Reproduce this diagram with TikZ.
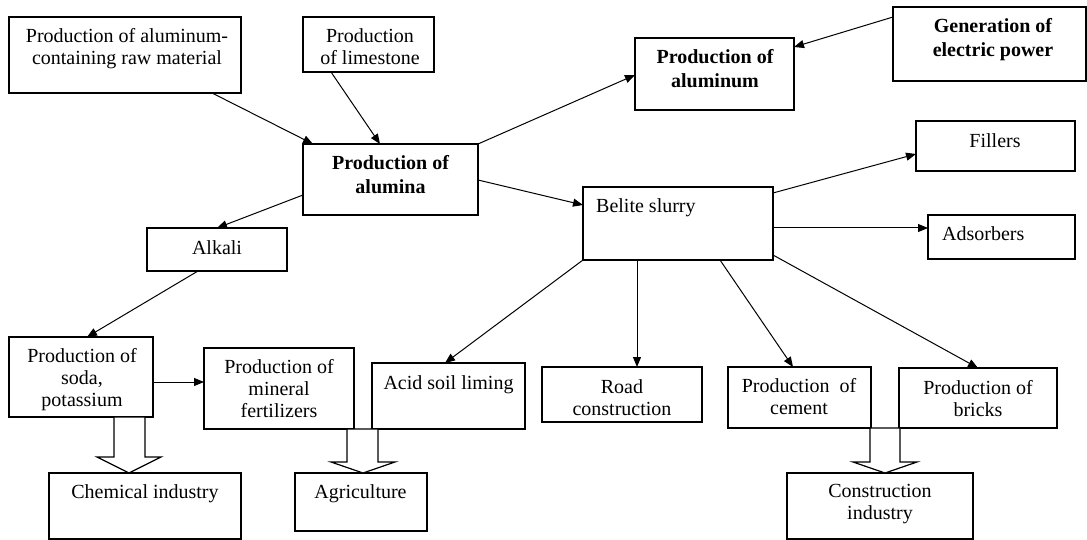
\documentclass[tikz,border=0pt]{standalone}
\usepackage{fontspec}
\setmainfont{Liberation Serif}
\usetikzlibrary{arrows.meta}
\tikzset{
  box/.style={draw, line width=1.2pt, inner sep=0pt, outer sep=0pt},
  txt/.style={inner sep=0pt, align=center, font=\fontsize{20}{22}\selectfont},
  btxt/.style={inner sep=0pt, align=center, font=\fontsize{20}{23.5}\selectfont\bfseries},
  arr/.style={line width=1pt, -{Triangle[length=10pt,width=8pt]}},
  block/.style={draw, line width=1.2pt, fill=white, line join=miter},
}
\newcommand\bx[5]{\node[box, minimum width={#4-#2}, minimum height={#5-#3}, anchor=north west] (#1) at (#2,#3) {};}
\begin{document}
\begin{tikzpicture}[x=1pt, y=-1pt]
\fill[white] (0,0) rectangle (1087,540);
\useasboundingbox (0,0) rectangle (1087,540);
% boxes
\bx{raw}{9}{17}{241}{93}
\bx{lime}{303}{17}{434}{72}
\bx{alum}{303}{144}{478}{215}
\bx{alu}{635}{38}{794}{110}
\bx{gen}{893}{7}{1086}{81}
\bx{fil}{916}{121}{1075}{171}
\bx{ads}{928}{215}{1075}{259}
\bx{bel}{583}{187}{773}{260}
\bx{alk}{147}{228}{287}{271}
\bx{soda}{9}{337}{153}{417}
\bx{fert}{204}{348}{354}{429}
\bx{acid}{372}{363}{525}{429}
\bx{road}{542}{367}{702}{422}
\bx{cem}{728}{367}{871}{428}
\bx{brk}{899}{368}{1057}{428}
\bx{chem}{49}{473}{241}{539}
\bx{agr}{295}{473}{427}{531}
\bx{cons}{787}{473}{973}{539}
% texts
\node[txt, anchor=north] (rawT) at (127,28.4) {Production of aluminum-\\containing raw material};
\node[txt, anchor=north] (limeT) at (370,28.4) {Production\\of limestone};
\node[btxt, anchor=north] (alumT) at (390.5,155.4) {Production of\\alumina};
\node[btxt, anchor=north] (aluT) at (715,49.4) {Production of\\aluminum};
\node[btxt, anchor=north] (genT) at (993,18.4) {Generation of\\electric power};
\node[txt, anchor=north] (filT) at (995,133.4) {Fillers};
\node[txt, anchor=north west] (adsT) at (942,226.4) {Adsorbers};
\node[txt, anchor=north west] (belT) at (596,198.4) {Belite slurry};
\node[txt, anchor=north] (alkT) at (217,240.4) {Alkali};
\node[txt, anchor=north] (sodaT) at (82,348.4) {Production of\\soda,\\potassium};
\node[txt, anchor=north] (fertT) at (279,359.4) {Production of\\mineral\\fertilizers};
\node[txt, anchor=north] (acidT) at (448.5,375.4) {Acid soil liming};
\node[txt, anchor=north] (roadT) at (622,379.4) {Road\\construction};
\node[txt, anchor=north] (cemT) at (799,378.4) {Production\ \ of\\cement};
\node[txt, anchor=north] (brkT) at (978,380.4) {Production of\\bricks};
\node[txt, anchor=north] (chemT) at (145,484.4) {Chemical industry};
\node[txt, anchor=north] (agrT) at (360.5,484.4) {Agriculture};
\node[txt, anchor=north] (consT) at (880,484.4) {Construction\\industry};
% block arrows
\draw[block] (114,0 |- soda.south) -- (114,457) -- (97,457) -- (129,0 |- chem.north) -- (161,457) -- (145,457) -- (145,0 |- soda.south) -- cycle;
\draw[block] (347,0 |- fert.south) -- (347,462) -- (331,462) -- (363,0 |- agr.north) -- (395,462) -- (378,462) -- (378,0 |- acid.south) -- cycle;
\draw[block] (870,0 |- cem.south) -- (870,462) -- (853,462) -- (885,0 |- cons.north) -- (917,462) -- (900,462) -- (900,0 |- brk.south) -- cycle;
% connectors
\draw[arr] (212,0 |- raw.south) -- (313,0 |- alum.north);
\draw[arr] (331,0 |- lime.south) -- (380,0 |- alum.north);
\draw[arr] (alum.north east) -- (alu.west |- 0,75);
\draw[arr] (gen.west |- 0,17) -- (alu.east |- 0,47);
\draw[arr] (alum.east |- 0,180) -- (bel.west |- 0,205);
\draw[arr] (alum.west |- 0,195) -- (217,0 |- alk.north);
\draw[arr] (198,0 |- alk.south) -- (87,0 |- soda.north);
\draw[arr] (soda.east |- 0,382) -- (fert.west |- 0,382);
\draw[arr] (bel.east |- 0,193) -- (fil.west |- 0,154);
\draw[arr] (bel.east |- 0,228) -- (ads.west |- 0,228);
\draw[arr] (bel.south west) -- (445,0 |- acid.north);
\draw[arr] (637,0 |- bel.south) -- (637,0 |- road.north);
\draw[arr] (720,0 |- bel.south) -- (793,0 |- cem.north);
\draw[arr] (bel.east |- 0,255) -- (978,0 |- brk.north);
\end{tikzpicture}
\end{document}
